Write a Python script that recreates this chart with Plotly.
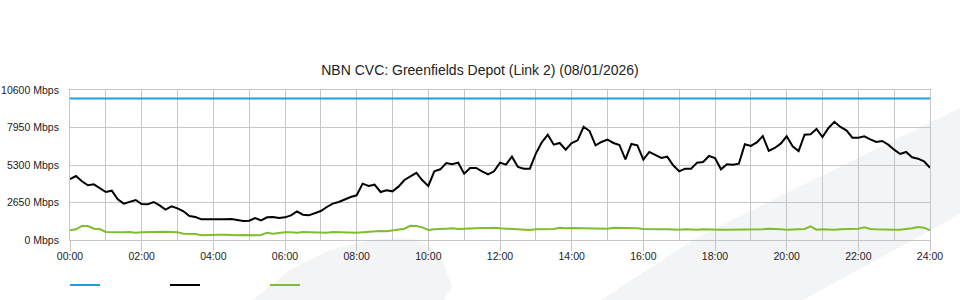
import plotly.graph_objects as go

# ---- data -------------------------------------------------------------
title_text = "NBN CVC: Greenfields Depot (Link 2) (08/01/2026)"

# sample times (minutes after midnight, 10 min resolution)
sample_minutes = list(range(0, 1441, 10))

capacity_times = [0, 24]
capacity_mbps = [10000, 10000]

traffic_mbps = [
    4311, 4523, 4147, 3864, 3934, 3675, 3393, 3487, 2874, 2568,
    2686, 2827, 2544, 2521, 2686, 2450, 2144, 2380, 2238, 2026,
    1696, 1626, 1461, 1461, 1437, 1414, 1461, 1484, 1414, 1343,
    1367, 1555, 1390, 1602, 1626, 1555, 1602, 1743, 2026, 1791,
    1743, 1908, 2050, 2332, 2568, 2686, 2874, 3039, 3157, 3982,
    3817, 3911, 3393, 3510, 3440, 3770, 4241, 4500, 4750, 4217,
    3817, 4853, 4995, 5442, 5348, 5466, 4688, 5089, 5089, 4853,
    4641, 4853, 5466, 5325, 5890, 5160, 5042, 5042, 6102, 6903,
    7445, 6738, 6856, 6385, 6856, 7044, 8000, 7700, 6691, 6927,
    7092, 6856, 6715, 5701, 6785, 6691, 5678, 6220, 5984, 5796,
    5890, 5277, 4853, 5042, 5042, 5466, 5513, 5937, 5796, 4995,
    5348, 5325, 5395, 6762, 6644, 6900, 7350, 6290, 6503, 6809,
    7327, 6620, 6290, 7445, 7469, 7845, 7280, 7916, 8350, 7987,
    7751, 7233, 7233, 7327, 7115, 6927, 6997, 6738, 6385, 6078,
    6220, 5843, 5749, 5560, 5100,
]

other_mbps = [
    683, 754, 990, 990, 801, 777, 565, 542, 565, 542,
    565, 518, 542, 565, 589, 589, 589, 565, 542, 448,
    448, 424, 330, 353, 400, 377, 377, 330, 330, 353,
    330, 330, 353, 518, 448, 518, 542, 542, 518, 565,
    542, 518, 518, 518, 565, 542, 518, 518, 518, 542,
    589, 613, 636, 613, 660, 730, 801, 1000, 990, 895,
    707, 754, 801, 801, 825, 777, 801, 825, 872, 848,
    848, 872, 825, 801, 801, 754, 754, 707, 754, 754,
    754, 777, 872, 825, 848, 848, 801, 848, 801, 825,
    801, 872, 872, 848, 848, 825, 777, 754, 754, 754,
    754, 730, 730, 754, 730, 730, 754, 730, 730, 730,
    730, 730, 777, 754, 754, 754, 754, 801, 754, 754,
    730, 730, 730, 777, 966, 730, 754, 730, 730, 754,
    754, 754, 801, 895, 777, 754, 730, 754, 730, 730,
    754, 825, 919, 872, 683,
]

x_tick_vals = [0, 2, 4, 6, 8, 10, 12, 14, 16, 18, 20, 22, 24]
x_tick_text = ["00:00", "02:00", "04:00", "06:00", "08:00", "10:00", "12:00",
               "14:00", "16:00", "18:00", "20:00", "22:00", "24:00"]
y_tick_vals = [0, 2650, 5300, 7950, 10600]
y_tick_text = ["0 Mbps", "2650 Mbps", "5300 Mbps", "7950 Mbps", "10600 Mbps"]

# ---- figure -----------------------------------------------------------
sample_hours = [m / 60 for m in sample_minutes]

BLUE = "#1aa1e1"
BLACK = "#000000"
GREEN = "#80bd2e"
GRID = "#c6c6c6"
FONT = "Liberation Sans, Arial, sans-serif"

fig = go.Figure()
fig.add_trace(go.Scatter(x=capacity_times, y=capacity_mbps, mode="lines",
                         line=dict(color=BLUE, width=2), name=""))
fig.add_trace(go.Scatter(x=sample_hours, y=traffic_mbps, mode="lines",
                         line=dict(color=BLACK, width=2), name=""))
fig.add_trace(go.Scatter(x=sample_hours, y=other_mbps, mode="lines",
                         line=dict(color=GREEN, width=2), name=""))

L, R, T, B = 70, 30, 90, 60
PW, PH = 960 - L - R, 300 - T - B


def px(xp, yp):
    return (xp - L) / PW, (300 - B - yp) / PH


def path(points):
    s = ""
    for i, (a, b) in enumerate(points):
        xx, yy = px(a, b)
        s += ("M" if i == 0 else "L") + f"{xx:.4f},{yy:.4f} "
    return s + "Z"


wm = "#f3f4f6"
swoosh = [(253, 300), (290, 270), (330, 250), (370, 240), (403, 238),
          (418, 240), (432, 248), (442, 260), (452, 286), (444, 300)]
band = [(601, 300), (693, 240), (754, 209), (960, 108), (960, 214),
        (913, 240), (803, 300)]
shapes = [
    dict(type="path", xref="paper", yref="paper", path=path(swoosh),
         fillcolor=wm, line=dict(width=0), layer="below"),
    dict(type="path", xref="paper", yref="paper", path=path(band),
         fillcolor=wm, line=dict(width=0), layer="below"),
]

fig.update_layout(
    width=960, height=300,
    margin=dict(l=L, r=R, t=T, b=B, pad=0, autoexpand=False),
    paper_bgcolor="white",
    plot_bgcolor="rgba(0,0,0,0)",
    font=dict(family=FONT, size=10.5, color="#222222"),
    title=dict(text=title_text, x=0.5, xref="container", xanchor="center",
               y=1 - 70 / 300, yanchor="middle", yref="container",
               font=dict(size=14, color="#222222", family=FONT)),
    showlegend=True,
    legend=dict(orientation="h", x=-5 / PW, xanchor="left", xref="paper",
                y=(240 - 285) / PH, yanchor="middle",
                entrywidth=55, entrywidthmode="pixels",
                bgcolor="rgba(0,0,0,0)", font=dict(size=10.5)),
    shapes=shapes,
    hovermode=False,
)
fig.update_xaxes(range=[0, 24], tickvals=x_tick_vals, ticktext=x_tick_text,
                 showgrid=True, gridcolor=GRID, gridwidth=1,
                 minor=dict(dtick=1, showgrid=True, gridcolor=GRID, gridwidth=1),
                 ticks="outside", ticklen=10, tickcolor=GRID, tickwidth=1,
                 ticklabelstandoff=-4,
                 zeroline=False, showline=True, linecolor=GRID, mirror=True,
                 automargin=False,
                 tickfont=dict(size=10.5, color="#222222"))
fig.update_yaxes(range=[0, 10600], tickvals=y_tick_vals, ticktext=y_tick_text,
                 showgrid=True, gridcolor=GRID, gridwidth=1,
                 ticks="", ticklabelstandoff=8,
                 zeroline=False, showline=True, linecolor=GRID, mirror=True,
                 automargin=False,
                 tickfont=dict(size=10.5, color="#222222"))

fig.write_html("out.html")
